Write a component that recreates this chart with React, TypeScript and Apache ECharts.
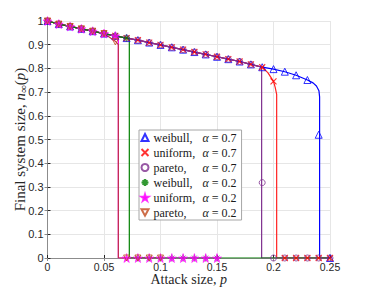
import React, { useEffect, useRef } from "react";
import * as echarts from "echarts";

const pMarks = [0, 0.01, 0.02, 0.03, 0.04, 0.05, 0.06, 0.07, 0.08, 0.09, 0.1, 0.11, 0.12, 0.13, 0.14, 0.15, 0.16, 0.17, 0.18, 0.19, 0.2, 0.21, 0.22, 0.23, 0.24, 0.25];

const weibull07 = [1.0, 0.987, 0.977, 0.967, 0.957, 0.947, 0.937, 0.928, 0.919, 0.909, 0.899, 0.889, 0.879, 0.869, 0.859, 0.849, 0.839, 0.829, 0.817, 0.805, 0.797, 0.786, 0.771, 0.751, 0.52, 0];
const uniform07 = [1.0, 0.987, 0.977, 0.967, 0.957, 0.947, 0.937, 0.928, 0.919, 0.909, 0.899, 0.889, 0.879, 0.869, 0.859, 0.849, 0.839, 0.829, 0.817, 0.805, 0.745, 0, 0, 0, 0, 0];
const pareto07 = [1.0, 0.987, 0.977, 0.967, 0.957, 0.947, 0.937, 0.928, 0.919, 0.909, 0.899, 0.889, 0.879, 0.869, 0.859, 0.849, 0.839, 0.829, 0.817, 0.318, 0, 0, 0, 0, 0, 0];
const weibull02 = [1.0, 0.987, 0.977, 0.967, 0.957, 0.947, 0.937, 0.928, 0, 0, 0, 0, 0, 0, 0, 0];
const uniform02 = [1.0, 0.987, 0.977, 0.967, 0.957, 0.947, 0.937, 0, 0, 0, 0, 0, 0, 0, 0, 0];
const pareto02 = [1.0, 0.987, 0.977, 0.967, 0.957, 0.947, 0.912, 0, 0, 0, 0];

// extra line points (p, value) after the marker points, tracing the drops
const weibull07Tail = [[0.235, 0.739], [0.238, 0.726], [0.2402, 0.706], [0.2408, 0.68], [0.2408, 0], [0.25, 0]];
const uniform07Tail = [[0.195, 0.782], [0.2, 0.745], [0.2015, 0.72], [0.2028, 0.69], [0.2028, 0], [0.25, 0]];
const pareto07Tail = [[0.1895, 0.806], [0.1895, 0], [0.25, 0]];
const weibull02Tail = [[0.0724, 0.925], [0.0724, 0], [0.25, 0]];
const uniform02Tail = [[0.0627, 0.935], [0.0627, 0], [0.15, 0]];
const pareto02Tail = [[0.06, 0.915], [0.0627, 0.9], [0.0627, 0], [0.1, 0]];

const xTicks = [0, 0.05, 0.1, 0.15, 0.2, 0.25];
const yTicks = [0, 0.1, 0.2, 0.3, 0.4, 0.5, 0.6, 0.7, 0.8, 0.9, 1];

const names = ["weibull|0.7", "uniform|0.7", "pareto|0.7", "weibull|0.2", "uniform|0.2", "pareto|0.2"];

const pts = (vals: number[], upto: number) => vals.slice(0, upto).map((v, i) => [pMarks[i], v]);

export default function App() {
  const ref = useRef<HTMLDivElement>(null);
  useEffect(() => {
    if (!ref.current) return;
    const chart = echarts.init(ref.current, null, { renderer: "svg" });
    const serif = "Liberation Serif";
    const sans = "Liberation Sans";

    const lineSeries = (name: string, data: number[][], color: string, z: number) => ({
      type: "line",
      name: name + "-line",
      data,
      showSymbol: false,
      symbol: "none",
      lineStyle: { color, width: 1.2 },
      itemStyle: { color },
      z,
      silent: true,
    });

    const markSeries = (name: string, data: number[][], symbol: string, color: string, size: number, filled: boolean, z: number, bw = 1) => ({
      type: "scatter",
      name,
      data,
      symbol,
      symbolSize: size,
      itemStyle: filled
        ? { color, borderColor: color, borderWidth: 0.6 }
        : { color: "rgba(0,0,0,0)", borderColor: color, borderWidth: bw },
      z,
    });

    const star = "path://M50,0L61,35L98,35L68,57L79,91L50,70L21,91L32,57L2,35L39,35Z";
    const cross = "path://M0,0L10,10M10,0L0,10";
    const asterisk = "path://M5,0L5,10M0,5L10,5M1.6,1.6L8.4,8.4M8.4,1.6L1.6,8.4";
    const triDown = "path://M0,0L10,0L5,9Z";

    const wb07 = pts(weibull07, 24).concat(weibull07Tail);
    const un07 = pts(uniform07, 20).concat(uniform07Tail);
    const pa07 = pts(pareto07, 19).concat(pareto07Tail);
    const wb02 = pts(weibull02, 8).concat(weibull02Tail);
    const un02 = pts(uniform02, 7).concat(uniform02Tail);
    const pa02 = pts(pareto02, 6).concat(pareto02Tail);

    const option: any = {
      animation: false,
      backgroundColor: "#ffffff",
      grid: { left: 47.5, right: 35, top: 21, bottom: 33, show: false, containLabel: false, outerBoundsMode: "none" },
      xAxis: [
        {
          type: "value", min: 0, max: 0.25, interval: 0.05, position: "bottom",
          name: "{t|Attack size, }{i|p}",
          nameLocation: "middle", nameGap: 14.5, nameMoveOverlap: false,
          nameTextStyle: { rich: { t: { fontFamily: serif, fontSize: 14, color: "#262626" }, i: { fontFamily: serif, fontSize: 14, fontStyle: "italic", color: "#262626" } } },
          axisLine: { show: true, lineStyle: { color: "#262626", width: 1 } },
          axisTick: { show: true, inside: true, length: 3, lineStyle: { color: "#262626" } },
          axisLabel: { fontFamily: sans, fontSize: 10.5, color: "#262626", margin: 3.5, formatter: (v: number) => String(+v.toFixed(2)) },
          splitLine: { show: true, lineStyle: { color: "#e6e6e6", width: 1 } },
        },
        {
          type: "value", min: 0, max: 0.25, interval: 0.05, position: "top",
          axisLine: { show: true, lineStyle: { color: "#8c8c8c", width: 1 } },
          axisTick: { show: true, inside: true, length: 3, lineStyle: { color: "#8c8c8c" } },
          axisLabel: { show: false }, splitLine: { show: false },
        },
      ],
      yAxis: [
        {
          type: "value", min: 0, max: 1, interval: 0.1, position: "left",
          name: "{t|Final system size, }{i|n}{s|∞}{t|(}{i|p}{t|)}",
          nameLocation: "middle", nameGap: 19, nameRotate: 90, nameMoveOverlap: false,
          nameTextStyle: { rich: {
            t: { fontFamily: serif, fontSize: 15, color: "#262626" },
            i: { fontFamily: serif, fontSize: 15, fontStyle: "italic", color: "#262626" },
            s: { fontFamily: serif, fontSize: 11, color: "#262626", padding: [7, 0, 0, 0] },
          } },
          axisLine: { show: true, lineStyle: { color: "#262626", width: 1 } },
          axisTick: { show: true, inside: true, length: 3, lineStyle: { color: "#262626" } },
          axisLabel: { fontFamily: sans, fontSize: 11, color: "#262626", margin: 4, formatter: (v: number) => String(+v.toFixed(1)) },
          splitLine: { show: true, lineStyle: { color: "#e6e6e6", width: 1 } },
        },
        {
          type: "value", min: 0, max: 1, interval: 0.1, position: "right",
          axisLine: { show: true, lineStyle: { color: "#8c8c8c", width: 1 } },
          axisTick: { show: true, inside: true, length: 3, lineStyle: { color: "#8c8c8c" } },
          axisLabel: { show: false }, splitLine: { show: false },
        },
      ],
      legend: {
        orient: "vertical", left: 139, top: 130,
        data: names,
        backgroundColor: "#ffffff", borderColor: "#a6a6a6", borderWidth: 1, borderRadius: 0,
        padding: [1.5, 5, 1.5, 1.5], itemGap: 3, itemWidth: 7, itemHeight: 7,
        textStyle: {
          fontFamily: serif, fontSize: 12, color: "#1a1a1a", lineHeight: 11.8,
          rich: {
            n: { fontFamily: serif, fontSize: 12, color: "#1a1a1a", width: 49 },
            a: { fontFamily: serif, fontSize: 12, color: "#1a1a1a", fontStyle: "italic" },
            e: { fontFamily: serif, fontSize: 12, color: "#1a1a1a" },
          },
        },
        formatter: (name: string) => {
          const [d, a] = name.split("|");
          return `{n|${d},}{a|α}{e| = ${a}}`;
        },
      },
      series: [
        lineSeries("weibull|0.7", wb07, "#0000ff", 1),
        lineSeries("uniform|0.7", un07, "#ff2020", 1),
        lineSeries("pareto|0.7", pa07, "#7e2f8e", 1),
        lineSeries("uniform|0.2", un02, "#ff00ff", 1),
        lineSeries("pareto|0.2", pa02, "#c0304a", 1),
        lineSeries("weibull|0.2", wb02, "#008000", 1),
        markSeries("weibull|0.7", pts(weibull07, 26), "triangle", "#0000ff", 7, false, 3),
        markSeries("uniform|0.7", pts(uniform07, 26), cross, "#ff0000", 6, false, 3, 1.2),
        markSeries("pareto|0.7", pts(pareto07, 26), "circle", "#7e2f8e", 6, false, 3),
        markSeries("weibull|0.2", pts(weibull02, 16), asterisk, "#008000", 7, false, 3, 0.8),
        markSeries("uniform|0.2", pts(uniform02, 16), star, "#ff00ff", 9, true, 3),
        markSeries("pareto|0.2", pts(pareto02, 11), triDown, "#c0481a", 6, false, 3),
      ],
    };
    chart.setOption(option);
    return () => chart.dispose();
  }, []);
  return (
    <div
      ref={ref}
      style={{ position: "fixed", left: 0, top: 0, width: 365, height: 291, background: "#fff" }}
    />
  );
}
